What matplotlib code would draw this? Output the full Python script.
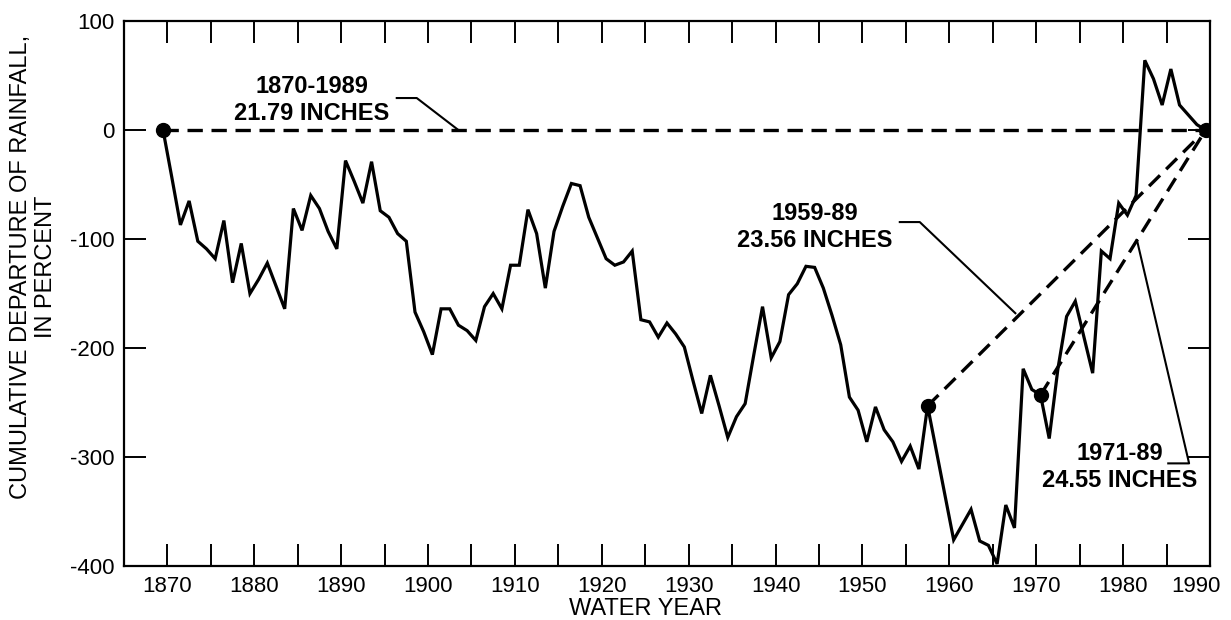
import numpy as np
import matplotlib.pyplot as plt
import matplotlib.transforms as mtransforms
from matplotlib.ticker import MultipleLocator

plt.rcParams['font.family'] = ['Liberation Sans', 'DejaVu Sans']
plt.rcParams['axes.unicode_minus'] = False

# cumulative departure of annual rainfall from the 1870-1989 mean, in percent
# (value at the end of each water year, 1869 = start of record)
years = np.arange(1869, 1990)
departure = [
    0, -43, -87, -65, -102, -109, -118, -83, -140, -104,
    -150, -137, -122, -143, -164, -72, -92, -60, -72, -93,
    -109, -28, -47, -67, -29, -74, -80, -95, -102, -167,
    -185, -206, -164, -164, -179, -184, -193, -162, -150, -164,
    -124, -124, -73, -95, -145, -93, -70, -49, -51, -80,
    -99, -118, -124, -121, -111, -174, -176, -190, -177, -187,
    -199, -230, -260, -225, -253, -282, -263, -251, -206, -162,
    -209, -194, -151, -141, -125, -126, -145, -170, -197, -245,
    -257, -286, -254, -275, -286, -304, -290, -311, -253, -294,
    -335, -376, -362, -348, -377, -381, -398, -344, -365, -219,
    -238, -243, -283, -219, -171, -157, -190, -223, -111, -118,
    -67, -78, -60, 64, 47, 23, 56, 23, 14, 5,
    0,
]

# start of each averaging period and the common end point
period_start = [1869, 1957, 1970]
period_end = 1989
period_labels = ["1870-1989\n21.79 INCHES",
                 "1959-89\n23.56 INCHES",
                 "1971-89\n24.55 INCHES"]

x_ticks = np.arange(1870, 1991, 10)
y_ticks = np.arange(-400, 101, 100)

dep = dict(zip(years, departure))
xpos = years + 0.5   # points drawn mid-way through the year

fig = plt.figure(figsize=(12.31, 6.2), dpi=100)
ax = fig.add_axes([0.1007, 0.087, 0.8822, 0.879])

ax.plot(xpos, departure, color='black', lw=2.3, solid_joinstyle='miter', zorder=3)

# trend lines from each period start to the end of record
for y0 in period_start:
    ax.plot([y0 + 0.5, period_end + 0.5], [dep[y0], dep[period_end]],
            color='black', lw=2.4, dashes=(4.6, 2.6), zorder=2)

mark_years = period_start + [period_end]
ax.plot([y + 0.5 for y in mark_years], [dep[y] for y in mark_years],
        'o', color='black', ms=10, zorder=4)

# labels with leader lines
txt_kw = dict(ha='center', va='center', fontsize=17, fontweight='bold',
              linespacing=1.25)
ax.text(1886.6, 27.5, period_labels[0], **txt_kw)
ax.plot([1896.4, 1898.7, 1903.5], [29.4, 29.4, 0], color='black', lw=1.5)

ax.text(1944.5, -89, period_labels[1], **txt_kw)
ax.plot([1954.3, 1956.6, 1967.6], [-84.4, -84.4, -168], color='black', lw=1.5)

ax.text(1979.6, -309, period_labels[2], **txt_kw)
ax.plot([1985.2, 1987.6, 1981.6], [-305.8, -305.8, -101], color='black', lw=1.5)

ax.set_xlim(1865, 1990)
ax.set_ylim(-400, 100)
ax.set_xticks(x_ticks)
ax.xaxis.set_minor_locator(MultipleLocator(5))
ax.set_yticks(y_ticks)

ax.tick_params(which='both', direction='in', top=True, right=True,
               length=15.8, width=1.4, labelsize=16, pad=7)
for s in ax.spines.values():
    s.set_linewidth(1.6)

# pull the last year label in from the right edge
fig.canvas.draw()
last = ax.get_xticklabels()[-1]
last.set_transform(last.get_transform() +
                   mtransforms.ScaledTranslation(-10 / 72, 0, fig.dpi_scale_trans))

fig.text(0.0272, 0.569, "CUMULATIVE DEPARTURE OF RAINFALL,\nIN PERCENT",
         rotation=90, ha='center', va='center', fontsize=17, linespacing=1.15)
fig.text(0.524, 0.0, "WATER YEAR", ha='center', va='bottom', fontsize=17)

fig.savefig("out.png", dpi=100)
